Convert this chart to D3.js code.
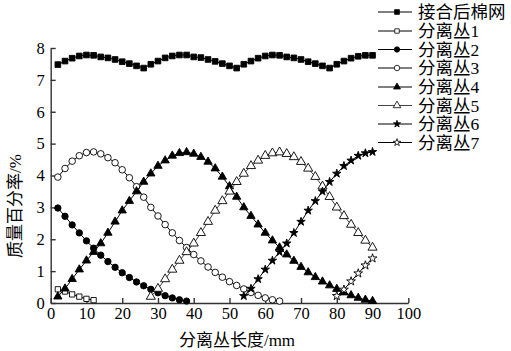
<!DOCTYPE html>
<html><head><meta charset="utf-8">
<script src="https://cdn.jsdelivr.net/npm/d3@7/dist/d3.min.js"></script>
<style>
html,body{margin:0;padding:0;background:#fff;}
svg{display:block;}
text{font-family:"Liberation Serif","Noto Sans CJK SC",serif;fill:#000;}
</style></head>
<body>
<svg id="c" width="511" height="351"></svg>
<script>
// ---- data ----
const seriesNames = ["接合后棉网","分离丛1","分离丛2","分离丛3","分离丛4","分离丛5","分离丛6","分离丛7"];
const xTicks = [0,10,20,30,40,50,60,70,80,90,100];
const yTicks = [0,1,2,3,4,5,6,7,8];
const xStart = [2,2,2,2,2,28,54,80];   // first length (mm) of each series
const xStep = 2;
const webValues = [7.48,7.59,7.68,7.75,7.78,7.77,7.72,7.69,7.64,7.57,7.51,7.44,7.37,
  7.49,7.59,7.69,7.75,7.78,7.78,7.72,7.70,7.64,7.58,7.51,7.44,7.37,
  7.49,7.59,7.68,7.75,7.78,7.77,7.72,7.69,7.64,7.57,7.51,7.44,7.37,
  7.49,7.59,7.68,7.74,7.77,7.77];
const c1Values = [0.43,0.36,0.27,0.20,0.13,0.09];
const c2Values = [2.98,2.72,2.45,2.20,1.95,1.72,1.50,1.30,1.12,0.95,0.80,0.66,0.54,0.43,0.32,0.23,0.16,0.10,0.06];
const c3Values = [3.95,4.22,4.45,4.62,4.72,4.74,4.68,4.56,4.40,4.18,3.93,3.65,3.32,3.00,2.73,2.46,2.20,1.96,1.74,1.52,1.32,1.13,0.96,0.81,0.67,0.55,0.44,0.33,0.24,0.16,0.10,0.06];
const c4Values = [0.20,0.45,0.75,1.05,1.33,1.60,1.87,2.20,2.55,2.90,3.20,3.50,3.80,4.06,4.30,4.47,4.62,4.70,4.73,4.68,4.58,4.43,4.22,3.96,3.66,3.33,3.00,2.73,2.46,2.20,1.96,1.74,1.52,1.32,1.13,0.96,0.81,0.67,0.55,0.44,0.33,0.24,0.16,0.10,0.06];
const c5Values = [0.20,0.45,0.75,1.05,1.33,1.60,1.87,2.20,2.55,2.90,3.20,3.50,3.80,4.06,4.30,4.47,4.62,4.70,4.73,4.68,4.58,4.43,4.22,3.96,3.66,3.33,3.00,2.73,2.46,2.20,1.96,1.74];
const c6Values = [0.22,0.45,0.75,1.05,1.33,1.60,1.87,2.20,2.55,2.90,3.20,3.50,3.80,4.06,4.30,4.47,4.62,4.70,4.74];
const c7Values = [0.22,0.42,0.68,0.93,1.18,1.40];
const allValues = [webValues,c1Values,c2Values,c3Values,c4Values,c5Values,c6Values,c7Values];

// ---- styles ----
const markers = [
  {type:d3.symbolSquare, size:32, fill:"#000"},
  {type:d3.symbolSquare, size:28, fill:"#fff"},
  {type:d3.symbolCircle, size:32, fill:"#000"},
  {type:d3.symbolCircle, size:34, fill:"#fff"},
  {type:d3.symbolTriangle, size:30, fill:"#000"},
  {type:d3.symbolTriangle, size:36, fill:"#fff"},
  {type:d3.symbolStar, size:22, fill:"#000"},
  {type:d3.symbolStar, size:24, fill:"#fff"}
];
const lineColors = ["#000","#000","#000","#000","#000","#444","#000","#000"];

const svg = d3.select("#c");
const x = d3.scaleLinear().domain([0,100]).range([50.7,408.3]);
const y = d3.scaleLinear().domain([0,8]).range([303,48]);

// axes
const xAxis = svg.append("g").attr("transform","translate(0,"+y(0)+")")
  .call(d3.axisBottom(x).tickValues(xTicks).tickSizeInner(-5).tickSizeOuter(0).tickPadding(4));
const yAxis = svg.append("g").attr("transform","translate("+x(0)+",0)")
  .call(d3.axisLeft(y).tickValues(yTicks).tickSizeInner(-5).tickSizeOuter(0).tickPadding(6));
[xAxis,yAxis].forEach(g=>{
  g.selectAll("path,line").attr("stroke","#333").attr("stroke-width",1.4);
  g.selectAll("text").style("font-size","16.5px").attr("fill","#000");
});

// series
const line = d3.line().x(d=>x(d[0])).y(d=>y(d[1]));
allValues.forEach((vals,i)=>{
  const pts = vals.map((v,k)=>[xStart[i]+k*xStep, v]);
  const g = svg.append("g");
  g.append("path").datum(pts).attr("d",line).attr("fill","none")
    .attr("stroke",lineColors[i]).attr("stroke-width",1);
  const sym = d3.symbol().type(markers[i].type).size(markers[i].size);
  g.selectAll("path.m").data(pts).enter().append("path").attr("class","m")
    .attr("d",sym)
    .attr("transform",d=>"translate("+x(d[0])+","+y(d[1])+")")
    .attr("fill",markers[i].fill).attr("stroke","#000").attr("stroke-width",0.9);
});

// legend
const lg = svg.append("g");
const rowY = [12,31,49.5,68,87,105.5,124,142.5];
seriesNames.forEach((n,i)=>{
  const yy = rowY[i];
  lg.append("line").attr("x1",378).attr("x2",412).attr("y1",yy).attr("y2",yy)
    .attr("stroke",lineColors[i]).attr("stroke-width",1);
  lg.append("path").attr("d",d3.symbol().type(markers[i].type).size(markers[i].size*0.7)())
    .attr("transform","translate(397,"+yy+")")
    .attr("fill",markers[i].fill).attr("stroke","#000").attr("stroke-width",0.8);
  lg.append("text").attr("x",418).attr("y",yy).attr("dy","0.36em")
    .style("font-size","17.5px").text(n);
});

// axis titles
svg.append("text").attr("x",237).attr("y",340).attr("text-anchor","middle")
  .attr("dy","0.36em").style("font-size","17px").text("分离丛长度/mm");
svg.append("text").attr("transform","translate(15,206) rotate(-90)")
  .attr("text-anchor","middle").attr("dy","0.36em").style("font-size","17px").text("质量百分率/%");
</script>
</body></html>
